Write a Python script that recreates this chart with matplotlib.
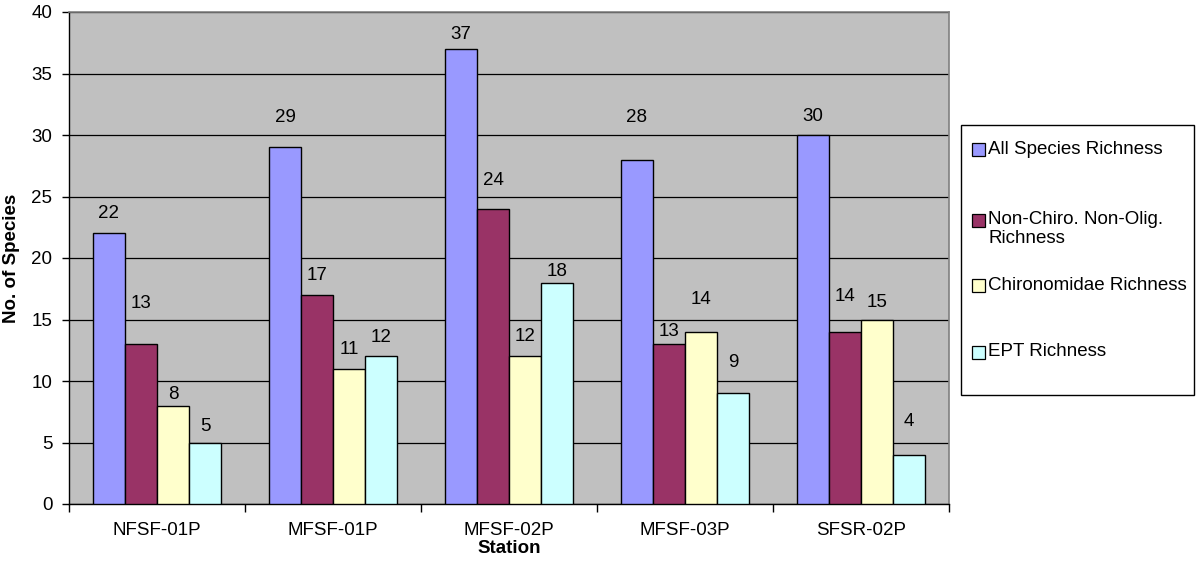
import numpy as np
import matplotlib
matplotlib.use("Agg")
import matplotlib.pyplot as plt
from matplotlib.patches import Rectangle

plt.rcParams['font.family'] = ['Liberation Sans', 'DejaVu Sans']

# data
stations = ["NFSF-01P", "MFSF-01P", "MFSF-02P", "MFSF-03P", "SFSR-02P"]
series_names = ["All Species Richness", "Non-Chiro. Non-Olig.\nRichness",
                "Chironomidae Richness", "EPT Richness"]
all_species = [22, 29, 37, 28, 30]
non_chiro = [13, 17, 24, 13, 14]
chironomidae = [8, 11, 12, 14, 15]
ept = [5, 12, 18, 9, 4]

# excel put the value labels at uneven heights above the bars
label_offsets = [
    [1.6, 2.4, 1.2, 3.4, 1.5],
    [3.3, 1.6, 2.3, 1.0, 2.9],
    [0.9, 1.6, 1.6, 2.6, 1.4],
    [1.3, 1.5, 0.9, 2.5, 2.7],
]
colors = ["#9999FF", "#993366", "#FFFFCC", "#CCFFFF"]

W, H = 1197, 565
fig = plt.figure(figsize=(W / 100, H / 100), dpi=100)
ax = fig.add_axes([69 / W, 1 - 504 / H, (949 - 69) / W, (504 - 12) / H])
ax.set_facecolor("#C0C0C0")

FS = 13.5
x = np.arange(len(stations))
bw = 0.182
series = [all_species, non_chiro, chironomidae, ept]
for i, vals in enumerate(series):
    pos = x + (i - 1.5) * bw
    ax.bar(pos, vals, width=bw, color=colors[i], edgecolor="black",
           linewidth=1.0, zorder=3)
    for p, v, off in zip(pos, vals, label_offsets[i]):
        ax.text(p, v + off, str(v), ha="center", va="center",
                fontsize=FS, zorder=4)

ax.set_xlim(-0.5, len(stations) - 0.5)
ax.set_ylim(0, 40)
ax.set_yticks(range(0, 41, 5))
ax.yaxis.grid(True, color="black", linewidth=0.9, zorder=0)
ax.set_axisbelow(True)

# category ticks sit on the group boundaries, labels at centres
ax.set_xticks(np.arange(-0.5, len(stations), 1.0))
ax.set_xticklabels([])
ax.set_xticks(x, minor=True)
ax.set_xticklabels(stations, minor=True, fontsize=FS)
ax.tick_params(axis="x", which="minor", length=0, pad=13)
ax.tick_params(axis="x", which="major", length=6, width=1, color="black")
ax.tick_params(axis="y", length=5, width=1, labelsize=FS, pad=7)

for s in ["left", "bottom"]:
    ax.spines[s].set_color("black")
    ax.spines[s].set_linewidth(1.0)
for s in ["top", "right"]:
    ax.spines[s].set_color("#808080")
    ax.spines[s].set_linewidth(1.2)

ax.set_xlabel("Station", fontsize=FS, fontweight="bold", labelpad=1)
ax.set_ylabel("No. of Species", fontsize=FS, fontweight="bold", labelpad=8)

# legend drawn by hand to copy the excel spacing
fig.patches.append(Rectangle((961 / W, 1 - 395 / H), (1194 - 961) / W,
                             (395 - 125) / H, transform=fig.transFigure,
                             facecolor="white", edgecolor="black",
                             linewidth=1.0))
entry_y = [150, 220, 285, 352]
for name, c, yy in zip(series_names, colors, entry_y):
    fig.patches.append(Rectangle((972 / W, 1 - (yy + 6.5) / H), 13 / W,
                                 13 / H, transform=fig.transFigure,
                                 facecolor=c, edgecolor="black",
                                 linewidth=0.9))
    for k, line in enumerate(name.split("\n")):
        fig.text(988 / W, 1 - (yy + 18 * k) / H, line, fontsize=FS,
                 ha="left", va="center")

fig.savefig("out.png", dpi=100)
